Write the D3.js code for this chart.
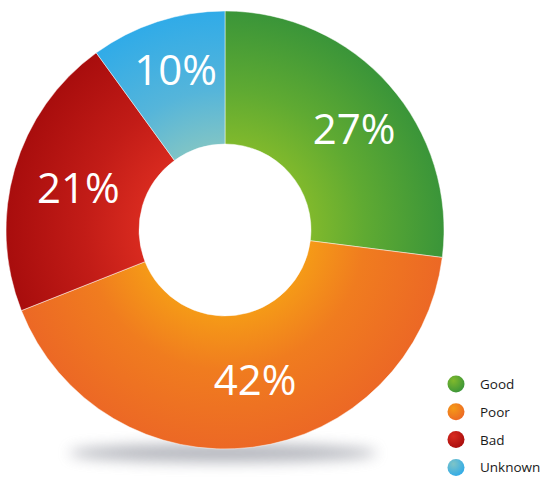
<!DOCTYPE html>
<html>
<head>
<meta charset="utf-8">
<script src="https://cdn.jsdelivr.net/npm/d3@7"></script>
<style>
  html, body { margin: 0; padding: 0; background: #ffffff; }
  svg { display: block; }
</style>
</head>
<body>
<svg id="chart" width="544" height="479"></svg>
<script>
// Share of ratings by category
const categories = ["Good", "Poor", "Bad", "Unknown"];
const shares = [27, 42, 21, 10];

// Slice colours: lighter near the hole, deeper toward the rim
const innerColors = ["#80b92c", "#f59a17", "#d82a1f", "#7fc4c6"];
const midColors   = ["#5faa32", "#f07c1f", "#c21c17", "#55b5da"];
const outerColors = ["#3a9539", "#ec6825", "#a80d0d", "#30abe8"];

// Small hand placement tweaks for the percentage labels (px)
const labelNudge = [[9, 5], [10, -9], [7, 3], [0, -8]];

const cx = 225, cy = 230;
const outerR = 219, innerR = 86;

const svg = d3.select("#chart");
const defs = svg.append("defs");

// Soft floor shadow under the ring
const blur = defs.append("filter").attr("id", "shadowBlur")
  .attr("x", "-30%").attr("y", "-200%").attr("width", "160%").attr("height", "500%");
blur.append("feGaussianBlur").attr("stdDeviation", 7);

svg.append("ellipse")
  .attr("cx", cx - 2).attr("cy", cy + outerR + 4)
  .attr("rx", 154).attr("ry", 9)
  .attr("fill", "#8a8d98")
  .attr("opacity", 0.65)
  .attr("filter", "url(#shadowBlur)");

// Radial gradients per slice, centred on the ring's own origin
categories.forEach((c, i) => {
  const g = defs.append("radialGradient")
    .attr("id", "grad" + i)
    .attr("gradientUnits", "userSpaceOnUse")
    .attr("cx", 0).attr("cy", 0).attr("r", outerR);
  g.append("stop").attr("offset", innerR / outerR).attr("stop-color", innerColors[i]);
  g.append("stop").attr("offset", 0.64).attr("stop-color", midColors[i]);
  g.append("stop").attr("offset", 1).attr("stop-color", outerColors[i]);

  const lg = defs.append("radialGradient")
    .attr("id", "lgrad" + i)
    .attr("cx", 0.35).attr("cy", 0.3).attr("r", 0.75);
  lg.append("stop").attr("offset", 0).attr("stop-color", innerColors[i]);
  lg.append("stop").attr("offset", 1).attr("stop-color", outerColors[i]);
});

const pie = d3.pie().sort(null).value(d => d)(shares);
const arc = d3.arc().innerRadius(innerR).outerRadius(outerR);
const labelArc = d3.arc().innerRadius(160).outerRadius(160);

const ring = svg.append("g").attr("transform", `translate(${cx},${cy})`);

ring.selectAll("path.slice")
  .data(pie)
  .join("path")
  .attr("class", "slice")
  .attr("d", arc)
  .attr("fill", (d, i) => `url(#grad${i})`)
  .attr("stroke", "#ffffff")
  .attr("stroke-opacity", 0.6)
  .attr("stroke-width", 0.8);

ring.selectAll("text.pct")
  .data(pie)
  .join("text")
  .attr("class", "pct")
  .attr("x", (d, i) => labelArc.centroid(d)[0] + labelNudge[i][0])
  .attr("y", (d, i) => labelArc.centroid(d)[1] + labelNudge[i][1] + 15)
  .attr("text-anchor", "middle")
  .attr("font-family", "'Open Sans', 'DejaVu Sans', sans-serif")
  .attr("font-size", 42)
  .attr("fill", "#ffffff")
  .text(d => d.data + "%");

// Legend
const legend = svg.append("g").attr("transform", "translate(456,384)");
const rowStep = 27.8;
const rows = legend.selectAll("g.row")
  .data(categories)
  .join("g")
  .attr("class", "row")
  .attr("transform", (d, i) => `translate(0,${i * rowStep})`);

rows.append("circle")
  .attr("r", 8.5)
  .attr("fill", (d, i) => `url(#lgrad${i})`);

rows.append("text")
  .attr("x", 24)
  .attr("y", 5)
  .attr("font-family", "'Open Sans', 'DejaVu Sans', sans-serif")
  .attr("font-size", 13.5)
  .attr("fill", "#1a1a1a")
  .text(d => d);
</script>
</body>
</html>
